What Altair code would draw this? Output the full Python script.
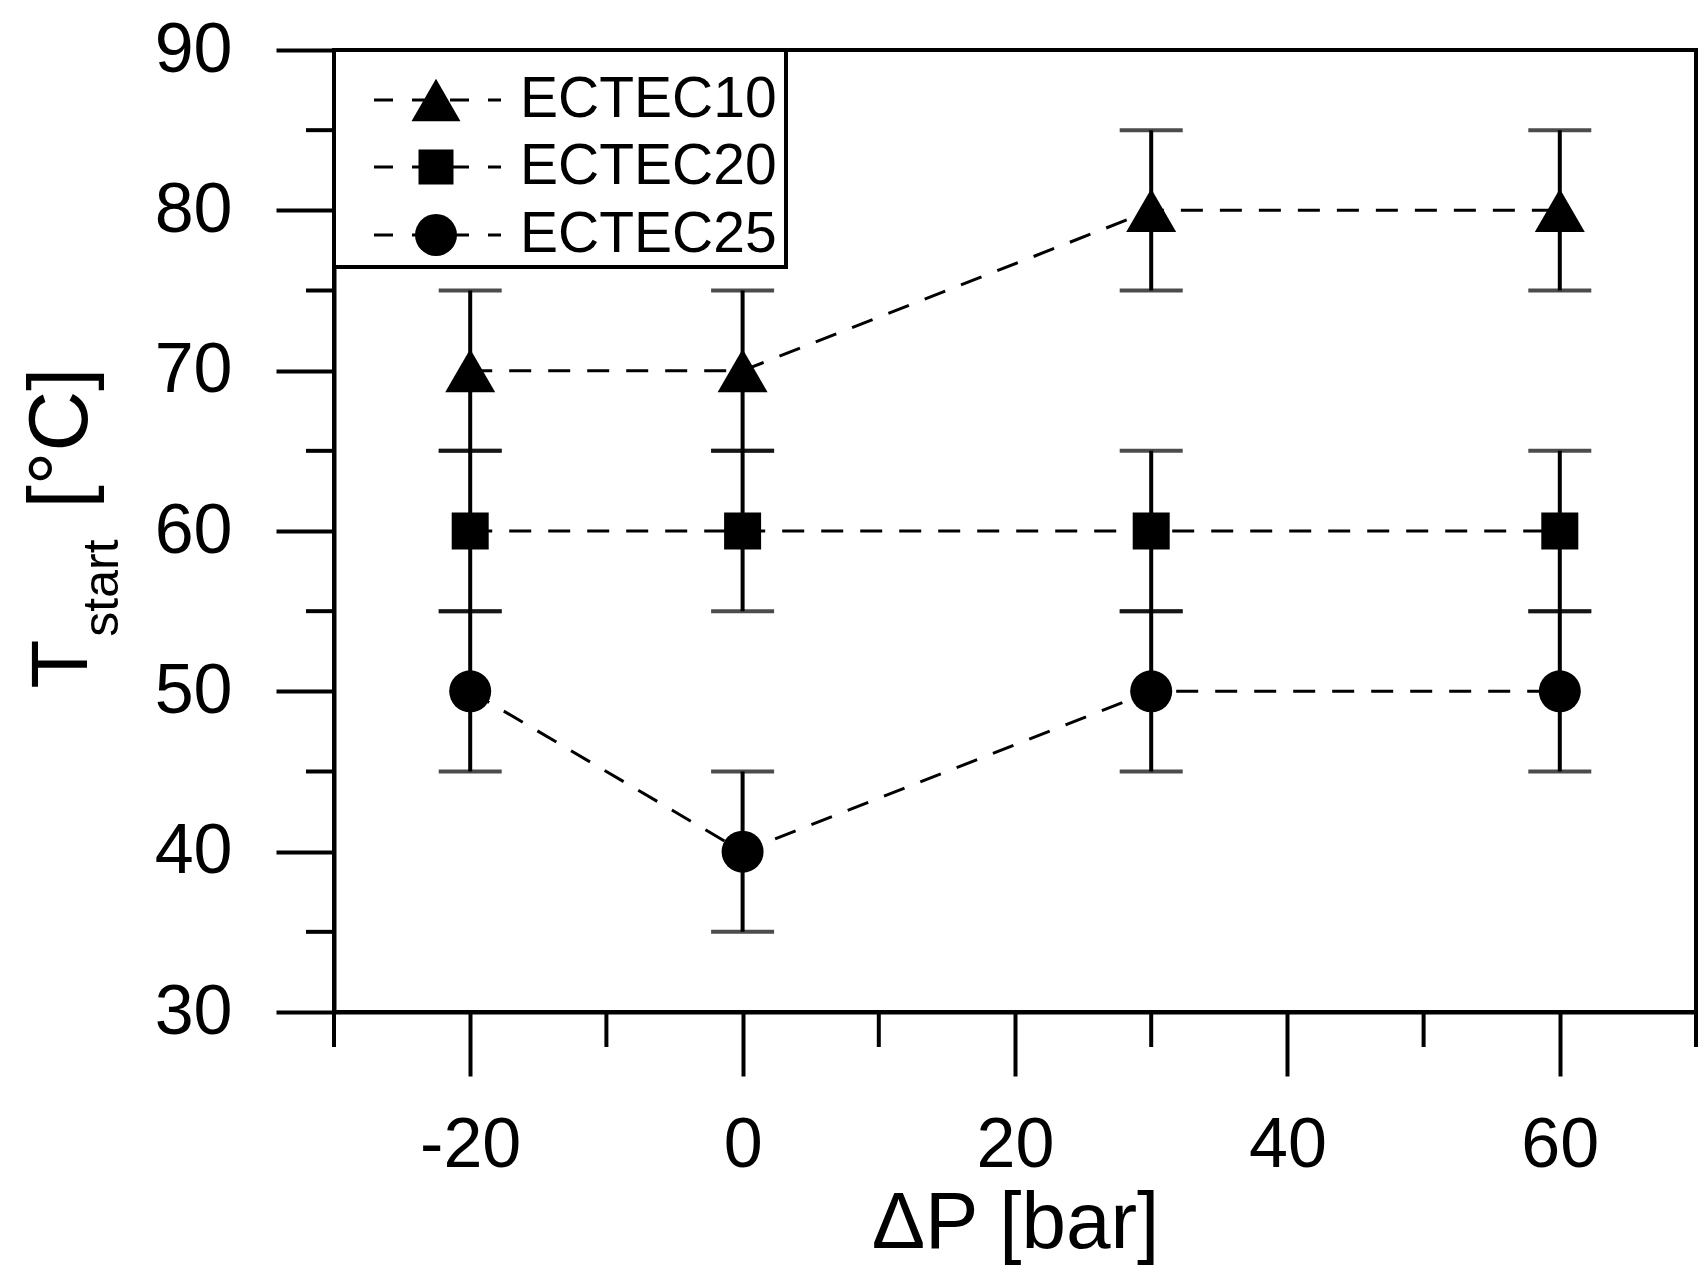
import altair as alt
import pandas as pd

# ---- data ----
pressure = [-20, 0, 30, 60]
series_names = ["ECTEC10", "ECTEC20", "ECTEC25"]
t_ectec10 = [70, 70, 80, 80]
t_ectec20 = [60, 60, 60, 60]
t_ectec25 = [50, 40, 50, 50]
err_ectec10 = [5, 5, 5, 5]
err_ectec20 = [5, 5, 5, 5]
err_ectec25 = [5, 5, 5, 5]
shapes = ["triangle-up", "square", "circle"]

x_major = [-20, 0, 20, 40, 60]
x_minor = [-30, -10, 10, 30, 50, 70]
y_major = [30, 40, 50, 60, 70, 80, 90]
y_minor = [35, 45, 55, 65, 75, 85]

FONT = "Liberation Sans"
W, H = 1362, 962

rows = []
for name, ts, es in zip(series_names, [t_ectec10, t_ectec20, t_ectec25],
                        [err_ectec10, err_ectec20, err_ectec25]):
    for p, t, e in zip(pressure, ts, es):
        rows.append({"series": name, "p": p, "t": t, "lo": t - e, "hi": t + e})
df = pd.DataFrame(rows)

xs = alt.Scale(domain=[-30, 70], nice=False, zero=False)
ys = alt.Scale(domain=[30, 90], nice=False, zero=False)

hyphen_expr = "datum.value < 0 ? '-' + format(-datum.value, 'd') : format(datum.value, 'd')"
X = alt.X("p:Q", scale=xs, axis=alt.Axis(values=x_major, title="ΔP [bar]", tickSize=64,
                                         labelPadding=35, titlePadding=4,
                                         labelExpr=hyphen_expr))
Y = alt.Y("t:Q", scale=ys, axis=alt.Axis(values=y_major, title=None, tickSize=58,
                                         labelPadding=44, format="d"))

base = alt.Chart(df)

lines = base.mark_line(color="black", strokeWidth=3, strokeDash=[22, 17]).encode(
    x=X, y=Y, detail="series:N")

err_rule = base.mark_rule(color="black", strokeWidth=4).encode(
    x=alt.X("p:Q", scale=xs), y=alt.Y("lo:Q", scale=ys), y2="hi:Q")
cap_lo = base.mark_tick(color="black", orient="horizontal", size=63, thickness=4).encode(
    x=alt.X("p:Q", scale=xs), y=alt.Y("lo:Q", scale=ys))
cap_hi = base.mark_tick(color="black", orient="horizontal", size=63, thickness=4).encode(
    x=alt.X("p:Q", scale=xs), y=alt.Y("hi:Q", scale=ys))

marker_sizes = [2500, 1369, 1764]
point_layers = []
for name, shp, sz in zip(series_names, shapes, marker_sizes):
    point_layers.append(
        base.transform_filter(alt.datum.series == name).mark_point(
            shape=shp, size=sz, filled=True, color="black", opacity=1).encode(
            x=alt.X("p:Q", scale=xs), y=alt.Y("t:Q", scale=ys)))

# minor ticks
ymin_df = pd.DataFrame({"t": y_minor})
xmin_df = pd.DataFrame({"p": x_minor})
y_minor_ticks = alt.Chart(ymin_df).mark_rule(color="black", strokeWidth=4).encode(
    y=alt.Y("t:Q", scale=ys), x=alt.value(-28), x2=alt.value(0))
x_minor_ticks = alt.Chart(xmin_df).mark_rule(color="black", strokeWidth=4).encode(
    x=alt.X("p:Q", scale=xs), y=alt.value(H), y2=alt.value(H + 35))

one = pd.DataFrame({"a": [0]})

# y-axis title with subscript
yt_T = alt.Chart(one).mark_text(text="T", font=FONT, fontSize=80, angle=270, align="center",
                                baseline="alphabetic", color="black").encode(
    x=alt.value(-247), y=alt.value(614))
yt_sub = alt.Chart(one).mark_text(text="start", font=FONT, fontSize=50, angle=270, align="center",
                                  baseline="alphabetic", color="black").encode(
    x=alt.value(-216), y=alt.value(538))
yt_unit = alt.Chart(one).mark_text(text="[°C]", font=FONT, fontSize=84, angle=270, align="center",
                                   baseline="alphabetic", color="black").encode(
    x=alt.value(-247), y=alt.value(388))

# legend
legend_box = alt.Chart(one).mark_rect(fill="white", stroke="black", strokeWidth=4).encode(
    x=alt.value(0), x2=alt.value(452), y=alt.value(0), y2=alt.value(217))
legend_layers = [legend_box]
legend_rows_y = [50, 117, 185]
legend_sizes = [2400, 1225, 1764]
for name, shp, sz, yy in zip(series_names, shapes, legend_sizes, legend_rows_y):
    legend_layers.append(alt.Chart(one).mark_rule(color="black", strokeWidth=3,
                                                   strokeDash=[19, 19]).encode(
        x=alt.value(40), x2=alt.value(167), y=alt.value(yy)))
    legend_layers.append(alt.Chart(one).mark_point(shape=shp, size=sz, filled=True,
                                                    color="black", opacity=1).encode(
        x=alt.value(102), y=alt.value(yy)))
    legend_layers.append(alt.Chart(one).mark_text(text=name, font=FONT, fontSize=57,
                                                   align="left", baseline="middle",
                                                   color="black").encode(
        x=alt.value(186), y=alt.value(yy)))

chart = alt.layer(
    lines, err_rule, cap_lo, cap_hi, *point_layers, y_minor_ticks, x_minor_ticks,
    yt_T, yt_sub, yt_unit, *legend_layers
).properties(
    width=W, height=H,
    autosize=alt.AutoSizeParams(type="none"),
    padding={"left": 326, "top": 42, "right": 2, "bottom": 260},
    background="white",
).configure_view(
    stroke="black", strokeWidth=4
).configure_axis(
    grid=False,
    domainColor="black", domainWidth=4,
    tickColor="black", tickWidth=4,
    labelFont=FONT, labelFontSize=70, labelColor="black",
    titleFont=FONT, titleFontSize=80, titleColor="black", titleFontWeight="normal",
)

chart.save("out.html", embed_options={"renderer": "svg", "actions": False})
